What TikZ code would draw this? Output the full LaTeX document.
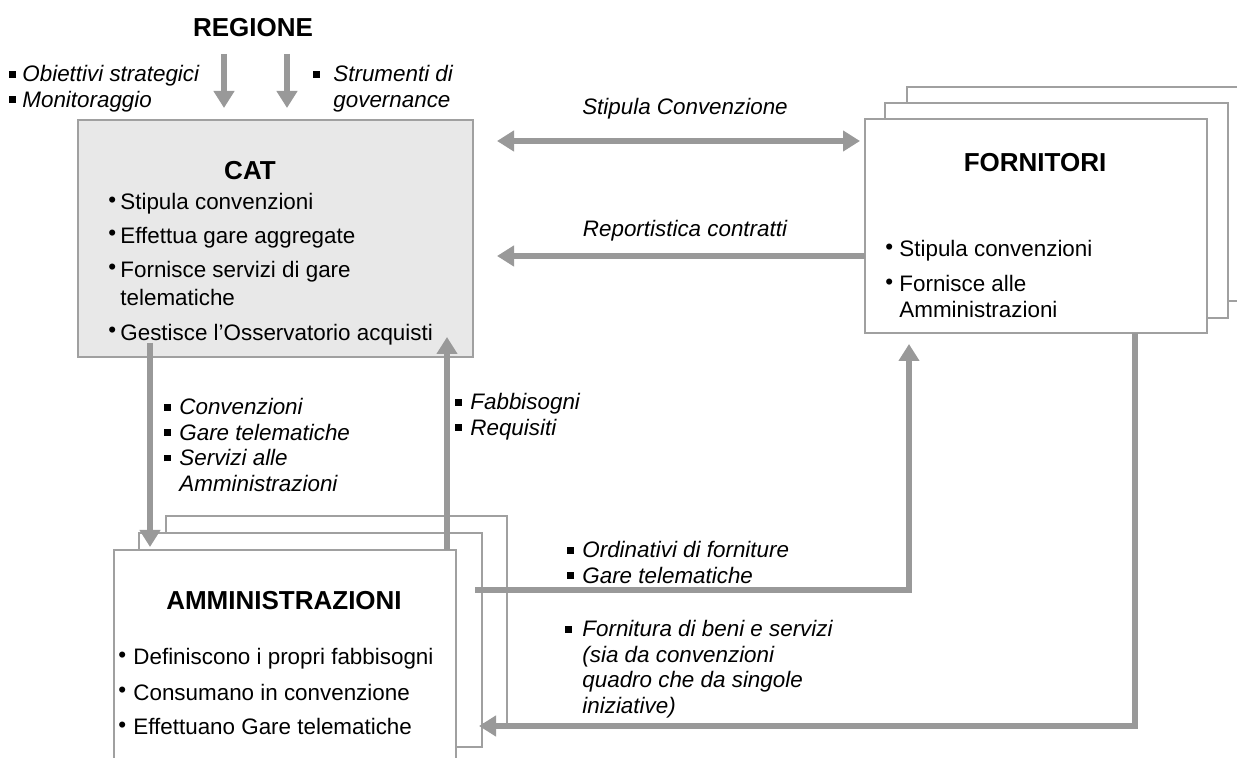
\documentclass[tikz,border=0pt]{standalone}
\usepackage{fontspec}
\setmainfont{Liberation Sans}
\usetikzlibrary{arrows.meta}
\definecolor{arrowgray}{HTML}{999999}
\definecolor{boxgray}{HTML}{A0A0A0}
\definecolor{catfill}{HTML}{E8E8E8}
\newcommand{\cb}[1][6pt]{\makebox[#1][l]{\raisebox{1.3pt}{\fontsize{11.2}{11.2}\selectfont\upshape •}}}
\newcommand{\sqb}[1][7.5pt]{\makebox[#1][l]{\rule[2.2pt]{3.3pt}{3.3pt}}}
\begin{document}
\begin{tikzpicture}[x=0.5pt,y=-0.5pt,
  box/.style={draw=boxgray, line width=0.9pt, fill=white, inner sep=0pt, outer sep=0pt},
  ttl/.style={font=\fontsize{13}{15}\selectfont\bfseries, inner sep=0pt, anchor=base},
  body/.style={font=\fontsize{11.2}{14}\selectfont, inner sep=0pt, anchor=base west},
  lbl/.style={font=\fontsize{11.2}{12.7}\selectfont\itshape, inner sep=0pt, anchor=base west},
  clbl/.style={font=\fontsize{11.2}{12.7}\selectfont\itshape, inner sep=0pt, anchor=base},
  conn/.style={draw=arrowgray, line width=3pt},
  arr/.style={conn, -{Triangle[width=10pt,length=8.5pt]}},
  darr/.style={conn, {Triangle[width=10pt,length=8.5pt]}-{Triangle[width=10pt,length=8.5pt]}}]
\useasboundingbox (0,0) rectangle (1237,758);
\fill[white] (0,0) rectangle (1237,758);
\clip (0,0) rectangle (1237,758);

% boxes
\node[box, fill=catfill, minimum width=197.5pt, minimum height=118.5pt] (cat) at (275.5,238.5) {};
\node[box, minimum width=176.5pt, minimum height=107pt] (forn3) at (1083.5,194) {};
\node[box, minimum width=171.5pt, minimum height=107.5pt] (forn2) at (1056.5,210.5) {};
\node[box, minimum width=171pt, minimum height=107pt] (forn) at (1036,226) {};
\node[box, minimum width=170.5pt, minimum height=104pt] (amm3) at (336.5,620) {};
\node[box, minimum width=171.5pt, minimum height=107pt] (amm2) at (310.5,640) {};
\node[box, minimum width=171pt, minimum height=110pt] (amm) at (285,660) {};

% titles
\node[ttl] (reg) at (253,37) {REGIONE};
\node[ttl] (catt) at (250,180) {CAT};
\node[ttl] (fornt) at (1035,172) {FORNITORI};
\node[ttl] (ammt) at (284,610) {AMMINISTRAZIONI};

% box contents
\node[body] (catb) at (108,210) {\begin{tabular}[t]{@{}l@{}}
\cb Stipula convenzioni\\[2.8pt]
\cb Effettua gare aggregate\\[2.8pt]
\cb Fornisce servizi di gare\\
\hspace*{6pt}telematiche\\[3.5pt]
\cb Gestisce l’Osservatorio acquisti
\end{tabular}};
\node[body, font=\fontsize{11.2}{13}\selectfont] (fornb) at (885,257) {\begin{tabular}[t]{@{}l@{}}
\cb[7pt]Stipula convenzioni\\[4.5pt]
\cb[7pt]Fornisce alle\\
\hspace*{7pt}Amministrazioni
\end{tabular}};
\node[body, font=\fontsize{11.2}{17.5}\selectfont] (ammb) at (118,665) {\begin{tabular}[t]{@{}l@{}}
\cb[7.5pt]Definiscono i propri fabbisogni\\
\cb[7.5pt]Consumano in convenzione\\
\cb[7.5pt]Effettuano Gare telematiche
\end{tabular}};

% labels
\node[lbl] (l1) at (9,82) {\begin{tabular}[t]{@{}l@{}}
\sqb[6.5pt]Obiettivi strategici\\
\sqb[6.5pt]Monitoraggio
\end{tabular}};
\node[lbl] (l2) at (313,82) {\begin{tabular}[t]{@{}l@{}}
\sqb[10pt]Strumenti di\\
\hspace*{10pt}governance
\end{tabular}};
\node[clbl] (l3) at (685,115) {Stipula Convenzione};
\node[clbl] (l4) at (685,237) {Reportistica contratti};
\node[lbl] (l5) at (164,415) {\begin{tabular}[t]{@{}l@{}}
\sqb Convenzioni\\
\sqb Gare telematiche\\
\sqb Servizi alle\\
\hspace*{7.5pt}Amministrazioni
\end{tabular}};
\node[lbl] (l6) at (455,410) {\begin{tabular}[t]{@{}l@{}}
\sqb Fabbisogni\\
\sqb Requisiti
\end{tabular}};
\node[lbl] (l7) at (567,558) {\begin{tabular}[t]{@{}l@{}}
\sqb Ordinativi di forniture\\
\sqb Gare telematiche
\end{tabular}};
\node[lbl] (l8) at (565,637) {\begin{tabular}[t]{@{}l@{}}
\sqb[8.5pt]Fornitura di beni e servizi\\
\hspace*{8.5pt}(sia da convenzioni\\
\hspace*{8.5pt}quadro che da singole\\
\hspace*{8.5pt}iniziative)
\end{tabular}};

% helper coordinates
\coordinate (r1) at (224,54);
\coordinate (r2) at (287,54);
\coordinate (s1) at (497,141);
\coordinate (s2) at (497,256);
\coordinate (dx) at (150,0);
\coordinate (ux) at (447,0);
\coordinate (os) at (475,590);
\coordinate (ox) at (909,0);
\coordinate (fx) at (1135,726);

% connectors
\draw[arr, shorten >=6pt] (r1) -- (cat.north -| r1);
\draw[arr, shorten >=6pt] (r2) -- (cat.north -| r2);
\draw[darr, shorten <=12pt, shorten >=2.5pt] (cat.east |- s1) -- (forn.west |- s1);
\draw[arr, shorten >=12pt] (forn.west |- s2) -- (cat.east |- s2);
\draw[arr, shorten >=1.5pt] ([yshift=7pt]cat.south -| dx) -- (amm.north -| dx);
\draw[arr] (amm.north -| ux) -- ([yshift=10pt]cat.south -| ux);
\draw[arr, shorten >=5.5pt] (os) -| (forn.south -| ox);
\draw[arr, shorten >=-1.5pt] (forn.south -| fx) |- (amm2.east |- fx);
\end{tikzpicture}
\end{document}
